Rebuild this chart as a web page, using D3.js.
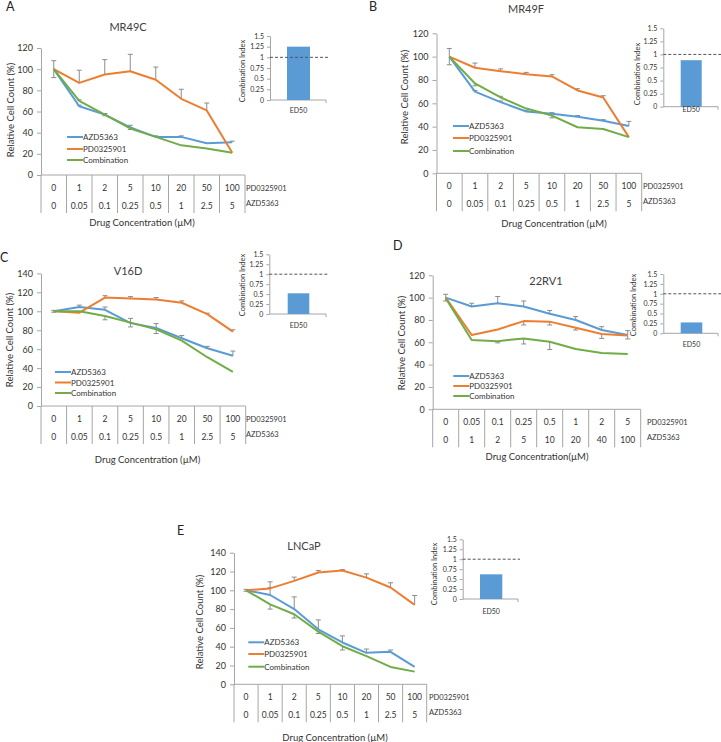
<!DOCTYPE html>
<html><head><meta charset="utf-8">
<script src="https://cdn.jsdelivr.net/npm/d3@7"></script>
<style>
html,body{margin:0;padding:0;background:#fff;}
svg{display:block;font-family:Lato,"Open Sans",sans-serif;font-weight:400;}
</style></head>
<body>
<svg id="chart" width="721" height="742"></svg>
<script>
// ---------- DATA ----------
const seriesNames = ["AZD5363", "PD0325901", "Combination"];
const pdLabels = ["0","1","2","5","10","20","50","100"];
const azdLabels = ["0","0.05","0.1","0.25","0.5","1","2.5","5"];
const pdLabelsD = ["0","0.05","0.1","0.25","0.5","1","2","5"];
const azdLabelsD = ["0","1","2","5","10","20","40","100"];
const mainTicks120 = [0,20,40,60,80,100,120];
const mainTicks140 = [0,20,40,60,80,100,120,140];
const ciTicks = [0,0.25,0.5,0.75,1,1.25,1.5];
const ciTickLabels = ["0","0.25","0.5","0.75","1","1.25","1.5"];
const ciCategory = ["ED50"];
const ciValues = [1.25, 0.89, 0.52, 0.275, 0.62];
const ciThreshold = 1;

// A: MR49C
const aAzd   = [100, 65, 57, 45, 36, 36, 30, 31];
const aPd    = [100, 87, 95, 98, 90, 72, 61, 21];
const aCombo = [100, 70, 57, 44, 36, 28, 25, 21];
const aAzdErr   = [[8,8],[0,1],[1,1],[2,2],[0,1],[0,1],[0,0],[0,1]];
const aPdErr    = [[0,0],[0,12],[0,14],[0,16],[0,12],[0,9],[0,7],[0,0]];
const aComboErr = [[0,0],[0,1],[0,1],[0,1],[0,0],[0,0],[0,0],[0,0]];
// B: MR49F
const bAzd   = [100, 70, 61, 53, 51, 48.5, 45, 40.5];
const bPd    = [100, 90.5, 87.5, 85, 83, 71, 65, 31];
const bCombo = [100, 77, 65, 55.5, 49.5, 39.5, 38, 31];
const bAzdErr   = [[7,7],[0,1],[0,1],[0,1],[0,1],[0,1],[0,1],[0,4]];
const bPdErr    = [[0,0],[0,4],[0,2],[0,1.5],[0,1.5],[0,1.5],[0,1.5],[0,0]];
const bComboErr = [[0,0],[2,0],[0,1],[0,0],[2,0],[0,0],[0,0],[0,0]];
// C: V16D
const cAzd   = [100, 104.5, 101.5, 87.5, 82.5, 71.5, 61, 53];
const cPd    = [100, 98.5, 114.5, 113.5, 112.5, 109, 97, 78.5];
const cCombo = [100, 100, 95, 88, 81, 69, 51.5, 36];
const cAzdErr   = [[1,1],[0,2],[0,3],[0,0],[0,4.5],[0,3],[0,2],[0,5]];
const cPdErr    = [[0,0],[0,0],[0,2],[0,2],[0,2],[0,2],[0,1],[0,2]];
const cComboErr = [[0,0],[0,0],[4,0],[4.5,4.5],[4.5,0],[0,0],[0,0],[0,0]];
// D: 22RV1
const dAzd   = [100, 92, 95, 92, 85.5, 80, 71, 66.5];
const dPd    = [100, 66.5, 71.5, 79, 78.5, 73, 67.5, 66];
const dCombo = [99.5, 62, 61, 63.5, 60.5, 54, 50.5, 49.5];
const dAzdErr   = [[3,3],[0,3],[0,6],[0,5],[0,3],[0,3],[0,3],[0,4]];
const dPdErr    = [[0,0],[0,0],[0,0],[3.5,0],[3,0],[2,0],[4,0],[3,0]];
const dComboErr = [[0,0],[0,0],[1.5,0],[5,0],[7,0],[0,0],[0,0],[0,0]];
// E: LNCaP
const eAzd   = [100, 95, 80, 58.5, 44.5, 33.5, 34.5, 18.5];
const ePd    = [100, 102, 110, 119, 121, 113.5, 103, 84.5];
const eCombo = [100, 85, 74.5, 56, 40.5, 30, 18.5, 13.5];
const eAzdErr   = [[1,1],[0,8],[0,13],[0,10],[0,7],[0,4],[0,2],[0,0]];
const ePdErr    = [[0,0],[0,7],[0,4],[0,2],[0,1],[0,4],[0,5],[0,10]];
const eComboErr = [[0,0],[5,0],[4,0],[2,0],[4,0],[0,0],[0,0],[0,0]];

// ---------- STYLE ----------
const colors = ["#5B9BD5", "#ED7D31", "#70AD47"];
const axisColor = "#a6a6a6";
const textColor = "#333333";
const errColor = "#8c8c8c";

// ---------- LAYOUT ----------
const panels = [
  { letter:"A", lx:6, ly:11, title:"MR49C", tx:128, ty:31,
    xL:41, xR:245, y0:175, yT:48, yMax:120, ticks:mainTicks120,
    row1:pdLabels, row2:azdLabels, row1Name:"PD0325901", row2Name:"AZD5363", rowNameX:246,
    xTitle:"Drug Concentration (µM)", xTitleX:142, xTitleY:222, yLabelX:10, yLabelY:110,
    legX:67, legY:[137,149,160],
    series:[aAzd,aPd,aCombo], errs:[aAzdErr,aPdErr,aComboErr],
    ci:{ ax:270, y0:100, yT:36, b0:287, b1:310, dashEnd:328, baseEnd:326, edY:110, labX:242, labY:71, v:ciValues[0] } },
  { letter:"B", lx:369, ly:11, title:"MR49F", tx:526, ty:13,
    xL:436.5, xR:641.7, y0:173.3, yT:33.3, yMax:120, ticks:mainTicks120,
    row1:pdLabels, row2:azdLabels, row1Name:"PD0325901", row2Name:"AZD5363", rowNameX:643,
    xTitle:"Drug Concentration (µM)", xTitleX:554, xTitleY:223, yLabelX:404, yLabelY:97,
    legX:453, legY:[126,138,151],
    series:[bAzd,bPd,bCombo], errs:[bAzdErr,bPdErr,bComboErr],
    ci:{ ax:663.3, y0:106.7, yT:28.3, b0:680.7, b1:701.7, dashEnd:721, baseEnd:718, edY:108.5, labX:637, labY:74, v:ciValues[1] } },
  { letter:"C", lx:0, ly:262, title:"V16D", tx:128, ty:275,
    xL:41, xR:245.7, y0:406, yT:273.4, yMax:140, ticks:mainTicks140,
    row1:pdLabels, row2:azdLabels, row1Name:"PD0325901", row2Name:"AZD5363", rowNameX:246,
    xTitle:"Drug Concentration (µM)", xTitleX:147.5, xTitleY:459, yLabelX:9, yLabelY:340,
    legX:55, legY:[372,382.5,393],
    series:[cAzd,cPd,cCombo], errs:[cAzdErr,cPdErr,cComboErr],
    ci:{ ax:269.3, y0:314, yT:254.3, b0:287.7, b1:309.3, dashEnd:328.3, baseEnd:326, edY:325, labX:242, labY:285, v:ciValues[2] } },
  { letter:"D", lx:393, ly:250, title:"22RV1", tx:546, ty:285,
    xL:432.7, xR:640.7, y0:409.3, yT:275.3, yMax:120, ticks:mainTicks120,
    row1:pdLabelsD, row2:azdLabelsD, row1Name:"PD0325901", row2Name:"AZD5363", rowNameX:647,
    xTitle:"Drug Concentration(µM)", xTitleX:537, xTitleY:456, yLabelX:401, yLabelY:343,
    legX:453.3, legY:[376,386,396],
    series:[dAzd,dPd,dCombo], errs:[dAzdErr,dPdErr,dComboErr],
    ci:{ ax:663.3, y0:333.3, yT:274, b0:680.7, b1:702.3, dashEnd:721, baseEnd:718, edY:344.3, labX:633.5, labY:305, v:ciValues[3] } },
  { letter:"E", lx:177, ly:535, title:"LNCaP", tx:304, ty:550,
    xL:234, xR:426.7, y0:684.3, yT:552.7, yMax:140, ticks:mainTicks140,
    row1:pdLabels, row2:azdLabels, row1Name:"PD0325901", row2Name:"AZD5363", rowNameX:429,
    xTitle:"Drug Concentration (µM)", xTitleX:335, xTitleY:737, yLabelX:199, yLabelY:622,
    legX:248.3, legY:[642.3,654,666.7],
    series:[eAzd,ePd,eCombo], errs:[eAzdErr,ePdErr,eComboErr],
    ci:{ ax:462.7, y0:599, yT:539.3, b0:480, b1:502.3, dashEnd:520, baseEnd:518, edY:611, labX:434, labY:574, v:ciValues[4] } }
];

const svg = d3.select("#chart");

panels.forEach(p => {
  const g = svg.append("g");
  const n = p.row1.length;
  const x = d3.scaleBand().domain(d3.range(n)).range([p.xL, p.xR]).padding(0);
  const cx = i => x(i) + x.bandwidth()/2;
  const y = d3.scaleLinear().domain([0, p.yMax]).range([p.y0, p.yT]);

  g.append("text").attr("x", p.lx).attr("y", p.ly).attr("font-size", 12.5)
    .attr("fill", "#222").text(p.letter);
  g.append("text").attr("x", p.tx).attr("y", p.ty).attr("text-anchor","middle")
    .attr("font-size", 11).attr("font-weight", 400).attr("fill", "#404040").text(p.title);

  const yAxis = d3.axisLeft(y).tickValues(p.ticks).tickSize(4).tickSizeOuter(0).tickPadding(4);
  const ya = g.append("g").attr("transform", `translate(${p.xL},0)`).call(yAxis);
  ya.select(".domain").attr("stroke", axisColor);
  ya.selectAll(".tick line").attr("stroke", axisColor);
  ya.selectAll(".tick text").attr("font-size", 9).attr("fill", textColor).attr("font-family","Lato,sans-serif");

  g.append("text").attr("transform", `translate(${p.yLabelX},${p.yLabelY}) rotate(-90)`)
    .attr("text-anchor","middle").attr("dominant-baseline","central")
    .attr("font-size", 9.5).attr("fill", textColor).text("Relative Cell Count (%)");

  g.append("line").attr("x1", p.xL).attr("x2", p.xR).attr("y1", p.y0).attr("y2", p.y0)
    .attr("stroke", axisColor);
  const bounds = d3.range(n+1).map(i => i < n ? x(i) : p.xR);
  g.selectAll(null).data(bounds).join("line")
    .attr("x1", d => d).attr("x2", d => d).attr("y1", p.y0).attr("y2", p.y0 + 38)
    .attr("stroke", axisColor);
  g.selectAll(null).data(p.row1).join("text")
    .attr("x", (d,i) => cx(i)).attr("y", p.y0 + 13).attr("text-anchor","middle")
    .attr("dominant-baseline","central").attr("font-size", 8.5).attr("fill", textColor).text(d => d);
  g.selectAll(null).data(p.row2).join("text")
    .attr("x", (d,i) => cx(i)).attr("y", p.y0 + 31).attr("text-anchor","middle")
    .attr("dominant-baseline","central").attr("font-size", 8.5).attr("fill", textColor).text(d => d);
  g.append("text").attr("x", p.rowNameX).attr("y", p.y0 + 13).attr("dominant-baseline","central")
    .attr("font-size", 7.5).attr("fill", textColor).text(p.row1Name);
  g.append("text").attr("x", p.rowNameX).attr("y", p.y0 + 28).attr("dominant-baseline","central")
    .attr("font-size", 7.5).attr("fill", textColor).text(p.row2Name);
  g.append("text").attr("x", p.xTitleX).attr("y", p.xTitleY).attr("text-anchor","middle")
    .attr("dominant-baseline","central").attr("font-size", 9.5).attr("fill", textColor).text(p.xTitle);

  p.series.forEach((vals, s) => {
    const errs = p.errs[s];
    vals.forEach((v, i) => {
      const [lo, hi] = errs[i];
      const px = cx(i);
      if (hi > 0) {
        g.append("line").attr("x1", px).attr("x2", px).attr("y1", y(v)).attr("y2", y(v+hi)).attr("stroke", errColor);
        g.append("line").attr("x1", px-2.5).attr("x2", px+2.5).attr("y1", y(v+hi)).attr("y2", y(v+hi)).attr("stroke", errColor);
      }
      if (lo > 0) {
        g.append("line").attr("x1", px).attr("x2", px).attr("y1", y(v)).attr("y2", y(v-lo)).attr("stroke", errColor);
        g.append("line").attr("x1", px-2.5).attr("x2", px+2.5).attr("y1", y(v-lo)).attr("y2", y(v-lo)).attr("stroke", errColor);
      }
    });
  });

  const line = d3.line().x((d,i) => cx(i)).y(d => y(d));
  p.series.forEach((vals, s) => {
    g.append("path").datum(vals).attr("d", line).attr("fill","none")
      .attr("stroke", colors[s]).attr("stroke-width", 2).attr("stroke-linejoin","round");
  });

  seriesNames.forEach((name, s) => {
    const ly = p.legY[s];
    g.append("line").attr("x1", p.legX).attr("x2", p.legX + 16).attr("y1", ly).attr("y2", ly)
      .attr("stroke", colors[s]).attr("stroke-width", 2);
    g.append("text").attr("x", p.legX + 16).attr("y", ly).attr("dominant-baseline","central")
      .attr("font-size", 8).attr("fill", textColor).text(name);
  });

  const c = p.ci;
  const cy = d3.scaleLinear().domain([0, 1.5]).range([c.y0, c.yT]);
  const ciAxis = d3.axisLeft(cy).tickValues(ciTicks).tickFormat((d,i) => ciTickLabels[i])
    .tickSize(3).tickSizeOuter(0).tickPadding(3);
  const ca = g.append("g").attr("transform", `translate(${c.ax},0)`).call(ciAxis);
  ca.select(".domain").attr("stroke", axisColor);
  ca.selectAll(".tick line").attr("stroke", axisColor);
  ca.selectAll(".tick text").attr("font-size", 7).attr("fill", textColor).attr("font-family","Lato,sans-serif");
  g.append("line").attr("x1", c.ax).attr("x2", c.baseEnd).attr("y1", c.y0).attr("y2", c.y0).attr("stroke", axisColor);
  g.append("line").attr("x1", c.baseEnd).attr("x2", c.baseEnd).attr("y1", c.y0).attr("y2", c.y0+3).attr("stroke", axisColor);
  g.append("rect").attr("x", c.b0).attr("width", c.b1 - c.b0)
    .attr("y", cy(c.v)).attr("height", cy(0) - cy(c.v)).attr("fill", colors[0]);
  g.append("line").attr("x1", c.ax).attr("x2", c.dashEnd).attr("y1", cy(ciThreshold)).attr("y2", cy(ciThreshold))
    .attr("stroke", "#555").attr("stroke-dasharray", "3,2").attr("stroke-width", 1);
  g.append("text").attr("x", (c.b0 + c.b1)/2).attr("y", c.edY).attr("text-anchor","middle")
    .attr("dominant-baseline","central").attr("font-size", 7).attr("fill", textColor).text(ciCategory[0]);
  g.append("text").attr("transform", `translate(${c.labX},${c.labY}) rotate(-90)`)
    .attr("text-anchor","middle").attr("dominant-baseline","central")
    .attr("font-size", 7.5).attr("fill", textColor).text("Combination Index");
});
</script>
</body></html>
